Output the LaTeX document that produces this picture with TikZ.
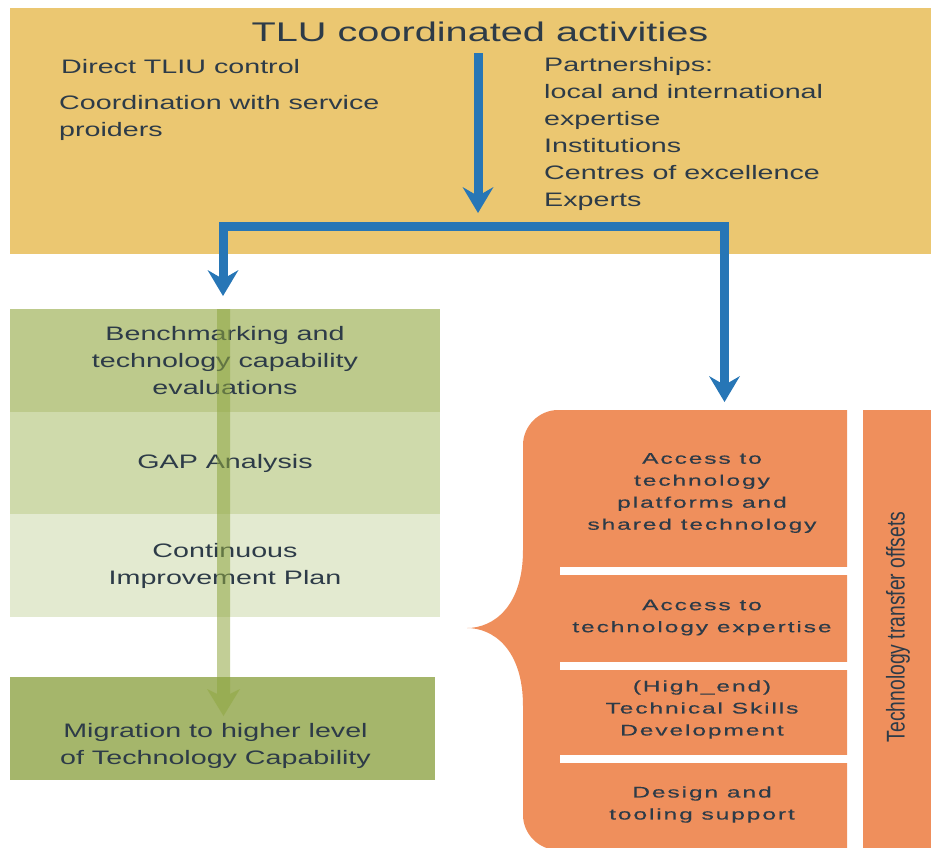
\documentclass[tikz,border=0pt]{standalone}
\usepackage{fontspec}
\setmainfont{Liberation Sans}
\newfontfamily\widefont[FakeStretch=1.47]{Liberation Sans}
\newfontfamily\trackfont[FakeStretch=1.6,LetterSpace=12,FakeBold=0.3]{Liberation Sans}
\usetikzlibrary{arrows.meta}

\definecolor{headyellow}{HTML}{EBC771}
\definecolor{ink}{HTML}{2D3B48}
\definecolor{flowblue}{HTML}{2776B6}
\definecolor{gA}{HTML}{BDCA8C}
\definecolor{gB}{HTML}{CFDAAB}
\definecolor{gC}{HTML}{E3EAD0}
\definecolor{gD}{HTML}{A5B66B}
\definecolor{garrow}{HTML}{8FA640}
\definecolor{offset}{HTML}{EF8F5C}

\begin{document}
\begin{tikzpicture}[x=1pt,y=-1pt,
  txt/.style={text=ink, inner sep=0pt},
  topline/.style={txt, anchor=base west, font=\widefont\fontsize{19.5}{27}\selectfont},
  gbox/.style={txt, minimum width=430pt, minimum height=103pt, align=center,
               font=\widefont\fontsize{19.5}{27}\selectfont},
  gtext/.style={txt, align=center, font=\widefont\fontsize{19.5}{27}\selectfont},
  otext/.style={txt, align=center, font=\trackfont\fontsize{15.4}{22}\selectfont},
  flow/.style={draw=flowblue, line width=9pt,
               -{Stealth[length=26pt,width=31pt,inset=9pt,line width=0pt]}},
  gap/.style={fill=white, draw=none, minimum height=8pt, minimum width=288pt, inner sep=0pt},
]
\useasboundingbox (0,0) rectangle (931,847);
\clip (0,0) rectangle (931,847);

% ---- header panel ----
\node[fill=headyellow, minimum width=925pt, minimum height=246pt, inner sep=0pt] (head) at (472.5,130.5) {};
\node[txt, anchor=base, font=\widefont\fontsize{27}{32}\selectfont] (title) at (480,41) {TLU coordinated activities};

\node[topline] (direct) at (61,73) {Direct TLIU control};
\node[topline] (coordA) at (59,109.5) {Coordination with service};
\node[topline] (coordB) at (59,136) {proiders};

\node[topline] (partA) at (544,71) {Partnerships:};
\node[topline] (partB) at (544,98) {local and international};
\node[topline] (partC) at (544,125) {expertise};
\node[topline] (partD) at (544,152) {Institutions};
\node[topline] (partE) at (544,179) {Centres of excellence};
\node[topline] (partF) at (544,206) {Experts};

% ---- capability ladder ----
\node[gbox, fill=gA] (bench) at (225,360.5) {Benchmarking and\\technology capability\\evaluations};
\node[gbox, fill=gB] (gapan) at (225,463) {GAP Analysis};
\node[gbox, fill=gC] (cip) at (225,565.5) {Continuous\\Improvement Plan};
\node[gbox, fill=gD, minimum width=425pt] (migr) at (222.5,728.5) {};

\coordinate (gstart) at (223.5,309);
\coordinate (gend) at (223.5,716);
\begin{scope}[transparency group, opacity=0.55]
  \draw[draw=garrow, line width=13pt,
        -{Stealth[length=27pt,width=33pt,inset=8pt,line width=0pt]}] (gstart) -- (gend);
\end{scope}

\node[gtext] (migrtxt) at ([xshift=-7pt,yshift=-17pt]migr.center) {Migration to higher level\\of Technology Capability};

% ---- technology transfer offsets ----
\fill[offset] (847,410) -- (558,410)
  .. controls (539,410) and (523,426) .. (523,445)
  -- (523,550)
  .. controls (523,607) and (493,628) .. (467,628)
  .. controls (493,628) and (523,649) .. (523,706)
  -- (523,815)
  .. controls (523,834) and (539,850) .. (558,850)
  -- (847,850) -- cycle;
\node[gap, anchor=west] (sepA) at (560,571) {};
\node[gap, anchor=west] (sepB) at (560,665.5) {};
\node[gap, anchor=west] (sepC) at (560,758.5) {};

\node[otext] (accA) at (702,493) {Access to\\technology\\platforms and\\shared technology};
\node[otext] (accB) at (702,617.5) {Access to\\technology expertise};
\node[otext] (skill) at (702,709.5) {(High\_end)\\Technical Skills\\Development};
\node[otext] (design) at (702,804.5) {Design and\\tooling support};

\node[fill=offset, minimum width=72pt, minimum height=440pt, inner sep=0pt, anchor=north west] (tbar) at (863,410) {};
\node[txt, rotate=90, font=\fontsize{19.3}{22}\selectfont] (tbartxt) at (898,627)
  {\scalebox{1}[1.33]{Technology transfer offsets}};

% ---- distribution arrows ----
\coordinate (drop) at (478,53);
\coordinate (join) at (478,213);
\coordinate (split) at (478,226.5);
\coordinate (ltip) at (223,296);
\coordinate (rtip) at (724.5,402);
\draw[flow] (drop) -- (join);
\draw[flow] (split) -| (ltip);
\draw[flow] (split) -| (rtip);
\end{tikzpicture}
\end{document}
